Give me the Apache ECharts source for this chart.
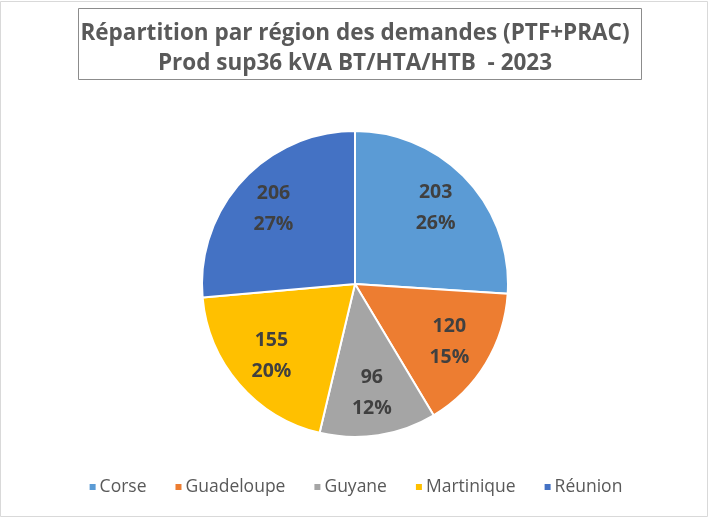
<!DOCTYPE html>
<html><head><meta charset="utf-8">
<script src="https://cdn.jsdelivr.net/npm/echarts@6/dist/echarts.min.js"></script>
<style>html,body{margin:0;padding:0;background:#fff}#c{width:710px;height:519px}</style>
</head><body><div id="c"></div>
<script>
const categories = ['Corse', 'Guadeloupe', 'Guyane', 'Martinique', 'Réunion'];
const values = [203, 120, 96, 155, 206];
const colors = ['#5B9BD5', '#ED7D31', '#A5A5A5', '#FFC000', '#4472C4'];
const titleLines = ['Répartition par région des demandes (PTF+PRAC)', 'Prod sup36 kVA BT/HTA/HTB  - 2023'];

const data = categories.map((n, i) => ({ name: n, value: values[i], itemStyle: { color: colors[i] } }));
const font = '"Open Sans", "Noto Sans", sans-serif';
const chart = echarts.init(document.getElementById('c'), null, { renderer: 'canvas' });
chart.setOption({
  animation: false,
  backgroundColor: '#fff',
  graphic: [{
    type: 'rect', shape: { x: 0.5, y: 1.5, width: 707, height: 515 },
    style: { fill: 'none', stroke: '#d9d9d9', lineWidth: 1 }, silent: true
  }, {
    type: 'rect', shape: { x: 78.5, y: 8.5, width: 563, height: 71 },
    style: { fill: 'none', stroke: '#8c8c8c', lineWidth: 1 }, silent: true
  }],
  title: {
    text: titleLines.join('\n'),
    left: 'center', top: 14,
    textStyle: { color: '#595959', fontSize: 22.5, fontWeight: 'bold', fontFamily: font, lineHeight: 30 }
  },
  legend: {
    bottom: 18, left: 'center',
    icon: 'rect', itemWidth: 8, itemHeight: 8, itemGap: 27,
    textStyle: { color: '#595959', fontSize: 17.5, fontFamily: font, padding: [0, 0, 0, -2] },
    data: categories.map((n, i) => ({ name: n, itemStyle: { color: colors[i] } }))
  },
  series: [{
    type: 'pie', center: [355, 284], radius: [0, 153],
    startAngle: 90, clockwise: true, silent: true,
    itemStyle: { borderColor: '#fff', borderWidth: 2 },
    label: { show: false }, labelLine: { show: false },
    data: data
  }, {
    type: 'pie', center: [355, 284], radius: [62, 153],
    startAngle: 90, clockwise: true, silent: true, percentPrecision: 0,
    itemStyle: { color: 'rgba(0,0,0,0)', borderWidth: 0 },
    labelLine: { show: false },
    label: {
      show: true, position: 'inside',
      formatter: '{c}\n{d}%',
      color: '#404040', fontSize: 19.5, fontWeight: 'bold', fontFamily: font, lineHeight: 31
    },
    data: categories.map((n, i) => ({ name: n, value: values[i] }))
  }]
});
</script></body></html>
